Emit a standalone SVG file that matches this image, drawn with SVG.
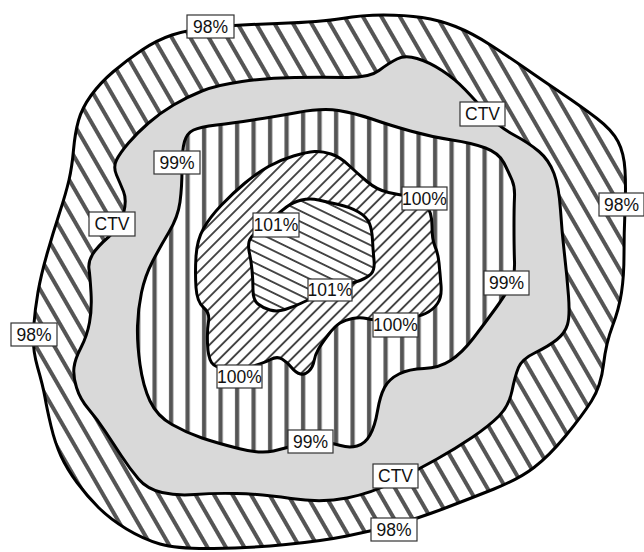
<svg xmlns="http://www.w3.org/2000/svg" width="644" height="552" viewBox="0 0 644 552">
<style>
.region{stroke:#000;stroke-width:3;stroke-linejoin:round}
.lbl rect{fill:#fff;stroke:#333;stroke-width:1.2}
.lbl text{font-family:"Liberation Sans",Arial,sans-serif;font-size:17.5px;fill:#111;text-anchor:middle}
</style>
<defs>
<pattern id="hOuter" patternUnits="userSpaceOnUse" width="16" height="16" patternTransform="rotate(-30)">
<rect width="16" height="16" fill="#fff"/><rect x="0" width="4" height="16" fill="#555"/>
</pattern>
<pattern id="hVert" patternUnits="userSpaceOnUse" width="16.5" height="20">
<rect width="16.5" height="20" fill="#fff"/><rect x="4" width="4.2" height="20" fill="#555"/>
</pattern>
<pattern id="h100" patternUnits="userSpaceOnUse" width="10" height="8.5" patternTransform="rotate(-45)">
<rect width="10" height="8.5" fill="#fff"/><rect width="10" height="1.9" fill="#444"/>
</pattern>
<pattern id="h101" patternUnits="userSpaceOnUse" width="10" height="9.5" patternTransform="rotate(26)">
<rect width="10" height="9.5" fill="#fff"/><rect width="10" height="1.9" fill="#444"/>
</pattern>
</defs>
<rect width="644" height="552" fill="#fff"/>
<g id="ring98">
<path class="region" fill="url(#hOuter)" d="M277.5,23.5 Q322,22 342,18.5 Q362,15 383.5,15 Q405,15 422,17.5 Q439,20 455.5,26.5 Q472,33 490.5,45 Q509,57 525.5,68.5 Q542,80 562,93.5 Q582,107 597,118.5 Q612,130 618,141.5 Q624,153 625,170 Q626,187 625,210 Q624,233 624,254.5 Q624,276 621.5,292.5 Q619,309 612.5,326 Q606,343 603.5,364.5 Q601,386 591.5,401 Q582,416 565.5,436 Q549,456 534,467.5 Q519,479 494,489 Q469,499 444,508.5 Q419,518 395.5,524.5 Q372,531 347,536 Q322,541 286,544.5 Q250,548 213.5,548.5 Q177,549 160,544 Q143,539 126.5,529 Q110,519 98.5,507.5 Q87,496 77,482.5 Q67,469 61,456 Q55,443 51,426 Q47,409 45,397.5 Q43,386 37.5,367 Q32,348 33.5,328.5 Q35,309 38,292 Q41,275 47,254 Q53,233 59.5,213 Q66,193 69,180 Q72,167 73.5,150 Q75,133 78.5,120.5 Q82,108 91,95.5 Q100,83 113.5,71.5 Q127,60 142,50 Q157,40 172,35 Q187,30 210,27.5 Q233,25 277.5,23.5 Z"/>
</g>
<g id="ctv">
<path class="region" fill="#d9d9d9" d="M242,81.5 Q267,78 294.5,77.5 Q322,77 345.5,77.5 Q369,78 379,70.5 Q389,63 397,59 Q405,55 417,58.5 Q429,62 442,70.5 Q455,79 465,89.5 Q475,100 487,113.5 Q499,127 514,135 Q529,143 539,151.5 Q549,160 554,173.5 Q559,187 560.5,210 Q562,233 564.5,254.5 Q567,276 568.5,296 Q570,316 567.5,324.5 Q565,333 557,339.5 Q549,346 535.5,352.5 Q522,359 518.5,367.5 Q515,376 512,391 Q509,406 499,416 Q489,426 472,437.5 Q455,449 437,459 Q419,469 395.5,481 Q372,493 347,498 Q322,503 291,498.5 Q260,494 236.5,493.5 Q213,493 195,494.5 Q177,496 162,492.5 Q147,489 138.5,479 Q130,469 121.5,456 Q113,443 105,431 Q97,419 88.5,409 Q80,399 76.5,387.5 Q73,376 74,367.5 Q75,359 81,347.5 Q87,336 89.5,322.5 Q92,309 91,292.5 Q90,276 89,269 Q88,262 92.5,254.5 Q97,247 108.5,237 Q120,227 123.5,213.5 Q127,200 123.5,191.5 Q120,183 116.5,175 Q113,167 116.5,160 Q120,153 128.5,143 Q137,133 148.5,123 Q160,113 173.5,105 Q187,97 202,91 Q217,85 242,81.5 Z"/>
</g>
<g id="region99">
<path class="region" fill="url(#hVert)" d="M216.5,125 Q233,123 253,120 Q273,117 297.5,112.5 Q322,108 338.5,110.5 Q355,113 372,119 Q389,125 410.5,131 Q432,137 452,140 Q472,143 485.5,148 Q499,153 504,163 Q509,173 512,180 Q515,187 514.5,197 Q514,207 514,227 Q514,247 514.5,261.5 Q515,276 510.5,285 Q506,294 495.5,308.5 Q485,323 473.5,338 Q462,353 450.5,360.5 Q439,368 424,368.5 Q409,369 399,374 Q389,379 384.5,387.5 Q380,396 377.5,411 Q375,426 370,435 Q365,444 357,446 Q349,448 340.5,445.5 Q332,443 321,441.5 Q310,440 298.5,444 Q287,448 273.5,451 Q260,454 238.5,448.5 Q217,443 202,438 Q187,433 172,424.5 Q157,416 150,401 Q143,386 140,364.5 Q137,343 137.5,326 Q138,309 141.5,292.5 Q145,276 152.5,261.5 Q160,247 169,232 Q178,217 180,202 Q182,187 182,168.5 Q182,150 184.5,141.5 Q187,133 193.5,130 Q200,127 216.5,125 Z"/>
</g>
<g id="region100">
<path class="region" fill="url(#h100)" d="M293.5,156 Q307,152 314.5,151.5 Q322,151 331,154 Q340,157 348.5,165 Q357,173 367,181.5 Q377,190 388.5,192.5 Q400,195 410,196.5 Q420,198 426,205 Q432,212 432,226 Q432,240 435,246.5 Q438,253 439,263 Q440,273 441,285 Q442,297 437.5,303.5 Q433,310 425.5,313.5 Q418,317 406.5,318.5 Q395,320 384,320 Q373,320 366.5,318.5 Q360,317 352.5,318.5 Q345,320 340,323 Q335,326 328.5,334.5 Q322,343 318.5,349 Q315,355 314,361 Q313,367 309,371 Q305,375 300.5,374 Q296,373 291.5,367.5 Q287,362 282,359 Q277,356 270.5,359.5 Q264,363 252,366.5 Q240,370 227.5,369 Q215,368 211.5,362.5 Q208,357 207.5,343.5 Q207,330 208.5,321.5 Q210,313 203.5,307.5 Q197,302 196,287.5 Q195,273 196,256.5 Q197,240 203.5,228.5 Q210,217 221.5,205 Q233,193 245,183 Q257,173 268.5,166.5 Q280,160 293.5,156 Z"/>
</g>
<g id="region101">
<path class="region" fill="url(#h101)" d="M272.5,218.5 Q280,212 286.5,207 Q293,202 301.5,200 Q310,198 318.5,200 Q327,202 338.5,204.5 Q350,207 358.5,212 Q367,217 369.5,223.5 Q372,230 372.5,240 Q373,250 374,260 Q375,270 371,274 Q367,278 360,280.5 Q353,283 341.5,286.5 Q330,290 319,295 Q308,300 300.5,303.5 Q293,307 285,309.5 Q277,312 270,310 Q263,308 258,304 Q253,300 253,290 Q253,280 252,270 Q251,260 249.5,253.5 Q248,247 249,242 Q250,237 257.5,231 Q265,225 272.5,218.5 Z"/>
</g>
<g id="labels">
<g class="lbl" id="l98top"><rect x="187" y="15" width="47" height="23"/><text x="210.5" y="32.8">98%</text></g>
<g class="lbl" id="l98right"><rect x="599" y="193" width="45" height="23"/><text x="621.5" y="210.8">98%</text></g>
<g class="lbl" id="l98left"><rect x="11" y="323" width="46" height="23"/><text x="34" y="340.8">98%</text></g>
<g class="lbl" id="l98bottom"><rect x="371" y="518" width="46" height="23"/><text x="394" y="535.8">98%</text></g>
<g class="lbl" id="lctvleft"><rect x="89" y="212" width="46" height="24"/><text x="112" y="230.3">CTV</text></g>
<g class="lbl" id="lctvtop"><rect x="460" y="102" width="45" height="24"/><text x="482.5" y="120.3">CTV</text></g>
<g class="lbl" id="lctvbottom"><rect x="373" y="464" width="45" height="24"/><text x="395.5" y="482.3">CTV</text></g>
<g class="lbl" id="l99left"><rect x="154" y="151" width="46" height="23"/><text x="177" y="168.8">99%</text></g>
<g class="lbl" id="l99right"><rect x="484" y="271" width="45" height="24"/><text x="506.5" y="289.3">99%</text></g>
<g class="lbl" id="l99bottom"><rect x="288" y="430" width="45" height="23"/><text x="310.5" y="447.8">99%</text></g>
<g class="lbl" id="l100a"><rect x="402" y="187" width="45" height="23"/><text x="424.5" y="204.8">100%</text></g>
<g class="lbl" id="l100b"><rect x="373" y="313" width="45" height="24"/><text x="395.5" y="331.3">100%</text></g>
<g class="lbl" id="l100c"><rect x="217" y="365" width="45" height="23"/><text x="239.5" y="382.8">100%</text></g>
<g class="lbl" id="l101a"><rect x="253" y="213" width="46" height="24"/><text x="276" y="231.3">101%</text></g>
<g class="lbl" id="l101b"><rect x="308" y="279" width="44" height="22"/><text x="330" y="296.3">101%</text></g>
</g>
</svg>
